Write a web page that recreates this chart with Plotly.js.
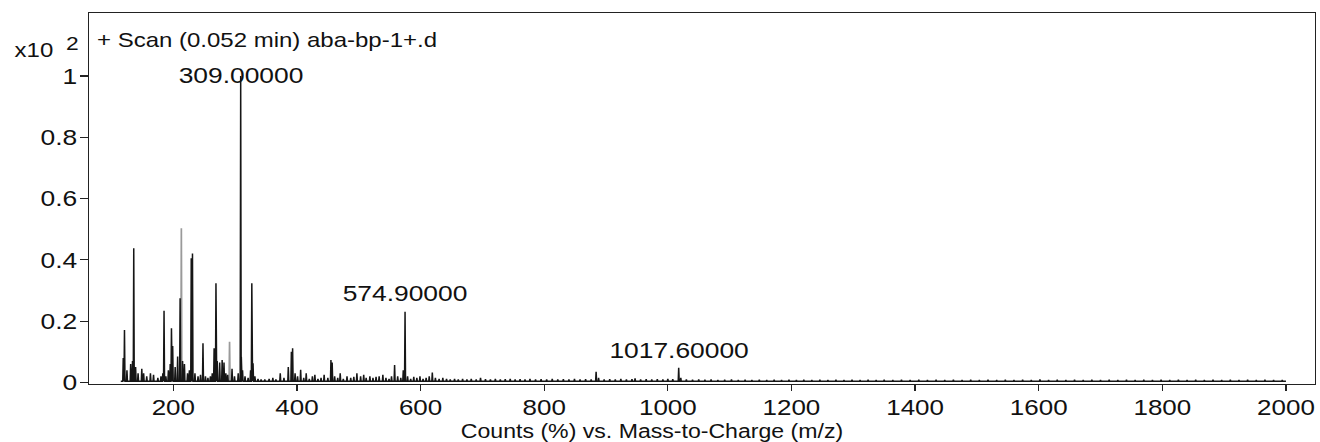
<!DOCTYPE html>
<html>
<head>
<meta charset="utf-8">
<script src="https://cdn.plot.ly/plotly-3.0.1.min.js"></script>
<style>
  html, body { margin: 0; padding: 0; background: #fff; }
  #chart { width: 1320px; height: 442px; }
</style>
</head>
<body>
<div id="chart"></div>
<script>
// ---- data (m/z, relative counts x10^2) ----
var peakMz = [
  119, 121, 125, 131, 134, 136, 139, 143, 149, 152, 157, 163, 168, 175, 180, 183, 185, 188,
  192, 195, 197, 199, 203, 207, 211, 215, 218, 223, 226, 229, 231, 235, 240, 244, 248, 252,
  256, 260, 263, 266, 269, 271, 275, 279, 282, 285, 288, 295, 299, 305, 309, 310, 312, 316,
  321, 325, 327, 329, 332, 337, 342, 348, 355, 361, 366, 373, 379, 386, 391, 393, 397, 401,
  406, 411, 415, 420, 425, 429, 434, 439, 444, 450, 455, 457, 461, 466, 470, 475, 481, 487,
  492, 497, 503, 508, 512, 518, 523, 528, 533, 539, 544, 549, 553, 558, 563, 568, 572, 574.9,
  579, 584, 589, 594, 599, 604, 609, 614, 619, 624, 630, 636, 642, 648, 655, 661, 668, 675,
  682, 690, 697, 705, 713, 721, 729, 737, 745, 753, 761, 769, 777, 786, 795, 804, 813, 822,
  831, 840, 849, 858, 867, 876, 884, 888, 897, 906, 915, 924, 933, 942, 947, 956, 965, 974,
  983, 992, 1000, 1008, 1017.6, 1021, 1030, 1040, 1050, 1060, 1070, 1081, 1092, 1103, 1114,
  1125, 1136, 1148, 1160, 1172, 1184, 1196, 1208, 1220, 1233, 1246, 1259, 1272, 1285, 1298,
  1311, 1324, 1337, 1350, 1364, 1378, 1392, 1406, 1420, 1434, 1448, 1462, 1476, 1490, 1504,
  1518, 1532, 1546, 1560, 1574, 1588, 1602, 1616, 1630, 1644, 1658, 1672, 1686, 1700, 1714,
  1728, 1742, 1756, 1770, 1784, 1798, 1812, 1826, 1840, 1854, 1868, 1882, 1896, 1910, 1924,
  1938, 1952, 1966, 1980, 1994
];
var peakInt = [
  0.080, 0.171, 0.040, 0.060, 0.070, 0.438, 0.050, 0.030, 0.045, 0.030, 0.020, 0.030, 0.025, 0.015, 0.020, 0.030, 0.234, 0.020,
  0.040, 0.060, 0.177, 0.119, 0.050, 0.085, 0.275, 0.070, 0.060, 0.030, 0.040, 0.405, 0.421, 0.030, 0.020, 0.025, 0.128, 0.020,
  0.015, 0.020, 0.030, 0.112, 0.324, 0.070, 0.065, 0.073, 0.065, 0.030, 0.025, 0.045, 0.020, 0.030, 1.000, 0.084, 0.040, 0.020,
  0.015, 0.040, 0.324, 0.063, 0.020, 0.012, 0.010, 0.010, 0.012, 0.015, 0.010, 0.030, 0.015, 0.050, 0.100, 0.112, 0.030, 0.020,
  0.041, 0.015, 0.030, 0.012, 0.020, 0.025, 0.012, 0.015, 0.025, 0.015, 0.073, 0.065, 0.020, 0.015, 0.030, 0.012, 0.020, 0.015,
  0.018, 0.030, 0.020, 0.025, 0.015, 0.020, 0.015, 0.018, 0.020, 0.025, 0.015, 0.012, 0.020, 0.057, 0.020, 0.015, 0.040, 0.231,
  0.020, 0.012, 0.018, 0.015, 0.020, 0.012, 0.015, 0.020, 0.032, 0.015, 0.012, 0.015, 0.012, 0.010, 0.012, 0.010, 0.012, 0.010,
  0.012, 0.010, 0.015, 0.011, 0.010, 0.012, 0.010, 0.011, 0.012, 0.010, 0.011, 0.010, 0.012, 0.010, 0.011, 0.010, 0.012, 0.010,
  0.011, 0.010, 0.012, 0.010, 0.011, 0.010, 0.035, 0.015, 0.010, 0.011, 0.010, 0.012, 0.010, 0.011, 0.013, 0.010, 0.011, 0.010,
  0.011, 0.010, 0.012, 0.011, 0.048, 0.015, 0.010, 0.009, 0.010, 0.009, 0.010, 0.008, 0.009, 0.010, 0.008,
  0.009, 0.008, 0.009, 0.008, 0.009, 0.008, 0.009, 0.008, 0.009, 0.008, 0.009, 0.008, 0.009, 0.008, 0.009,
  0.008, 0.009, 0.008, 0.009, 0.008, 0.009, 0.008, 0.009, 0.008, 0.009, 0.008, 0.009, 0.008, 0.009, 0.008,
  0.009, 0.008, 0.009, 0.008, 0.009, 0.008, 0.010, 0.008, 0.009, 0.008, 0.009, 0.008, 0.009, 0.008, 0.009,
  0.008, 0.009, 0.008, 0.009, 0.008, 0.009, 0.008, 0.009, 0.008, 0.009, 0.008, 0.009, 0.008, 0.009, 0.008,
  0.009, 0.008, 0.009, 0.008, 0.008
];
// lighter (grey) sticks
var greyMz  = [213, 291];
var greyInt = [0.503, 0.133];

// labelled peaks
var labelMz   = [309, 574.9, 1017.6];
var labelText = ["309.00000", "574.90000", "1017.60000"];

var xTicks = [200, 400, 600, 800, 1000, 1200, 1400, 1600, 1800, 2000];
var yTicks = [0, 0.2, 0.4, 0.6, 0.8, 1];
var yTickText = ["0", "0.2", "0.4", "0.6", "0.8", "1"];

var titleText  = "+ Scan (0.052 min) aba-bp-1+.d";
var xTitleText = "Counts (%) vs. Mass-to-Charge (m/z)";

// ---- build stick-profile traces ----
function sticks(mz, inten, base, startMz, endMz) {
  var idx = mz.map(function (_, i) { return i; }).sort(function (a, b) { return mz[a] - mz[b]; });
  var xs = [], ys = [];
  if (startMz !== null) { xs.push(startMz); ys.push(base); }
  idx.forEach(function (i) {
    xs.push(mz[i] - 0.8, mz[i], mz[i] + 0.8);
    ys.push(base, inten[i], base);
    if (startMz === null) { xs.push(null); ys.push(null); }
  });
  if (endMz !== null) { xs.push(endMz); ys.push(base); }
  return { x: xs, y: ys };
}
var BASE = 0.004;
var greyS = sticks(greyMz, greyInt, BASE, null, null);
var mainS = sticks(peakMz, peakInt, BASE, 115, 2000);

var FONT = "Liberation Sans, Arial, Helvetica, sans-serif";

var traces = [
  { x: greyS.x, y: greyS.y, type: "scatter", mode: "lines",
    line: { color: "#9a9a9a", width: 1.7 }, hoverinfo: "skip", showlegend: false, cliponaxis: true },
  { x: mainS.x, y: mainS.y, type: "scatter", mode: "lines",
    line: { color: "#161616", width: 1.5 }, hoverinfo: "skip", showlegend: false, cliponaxis: true }
];

var labelY = [1.0, 0.289, 0.104];
var annotations = labelMz.map(function (m, i) {
  return { x: m, y: labelY[i], xref: "x", yref: "y", text: labelText[i], showarrow: false,
           xanchor: "center", yanchor: "middle", align: "center",
           font: { family: FONT, size: 22, color: "#111" } };
});
annotations.push({ x: 0.0045, y: 1.117, xref: "paper", yref: "y", text: titleText, showarrow: false,
                   xanchor: "left", yanchor: "middle", align: "left",
                   font: { family: FONT, size: 20, color: "#111" } });
annotations.push({ x: -0.0278, y: 1.086, xref: "paper", yref: "y", text: "x10", showarrow: false,
                   xanchor: "right", yanchor: "middle", align: "right",
                   font: { family: FONT, size: 20, color: "#111" } });
annotations.push({ x: -0.0205, y: 1.106, xref: "paper", yref: "y", text: "2", showarrow: false,
                   xanchor: "left", yanchor: "middle", align: "left",
                   font: { family: FONT, size: 19, color: "#111" } });

var layout = {
  width: 1320, height: 442,
  margin: { l: 89, r: 5, t: 13, b: 58 },
  paper_bgcolor: "#fff", plot_bgcolor: "#fff",
  showlegend: false,
  font: { family: FONT, color: "#111" },
  xaxis: {
    range: [63.6, 2047], tickvals: xTicks, ticktext: xTicks.map(String),
    showgrid: false, zeroline: false, showline: true, mirror: true,
    linecolor: "#222", linewidth: 1.4,
    ticks: "outside", ticklen: 6, tickwidth: 1.2, tickcolor: "#222",
    tickfont: { family: FONT, size: 22, color: "#111" },
    title: { text: xTitleText, font: { family: FONT, size: 21, color: "#111" }, standoff: 0 }
  },
  yaxis: {
    range: [-0.005, 1.2055], tickvals: yTicks, ticktext: yTickText,
    showgrid: false, zeroline: false, showline: true, mirror: true,
    linecolor: "#222", linewidth: 1.4,
    ticks: "outside", ticklen: 8, tickwidth: 1.2, tickcolor: "#222",
    tickfont: { family: FONT, size: 22, color: "#111" }
  },
  annotations: annotations
};

// widen text horizontally about its own anchor (the reference glyphs are stretched)
function stretch(selector, s, dx, dy) {
  document.querySelectorAll(selector).forEach(function (t) {
    var x = parseFloat(t.getAttribute("x")) || 0;
    var tr = t.getAttribute("transform") || "";
    t.setAttribute("transform", tr + " translate(" + (x + dx) + "," + dy + ") scale(" + s + ",1) translate(" + (-x) + ",0)");
  });
}

Plotly.newPlot("chart", traces, layout, { displayModeBar: false, staticPlot: true }).then(function () {
  stretch("#chart .xtick text", 1.18, 0, -3);
  stretch("#chart .ytick text", 1.2, 2, 0);
  stretch("#chart .annotation-text", 1.2, 0, 0);
  stretch("#chart .xtitle", 1.1, -50, 0);
});
</script>
</body>
</html>
